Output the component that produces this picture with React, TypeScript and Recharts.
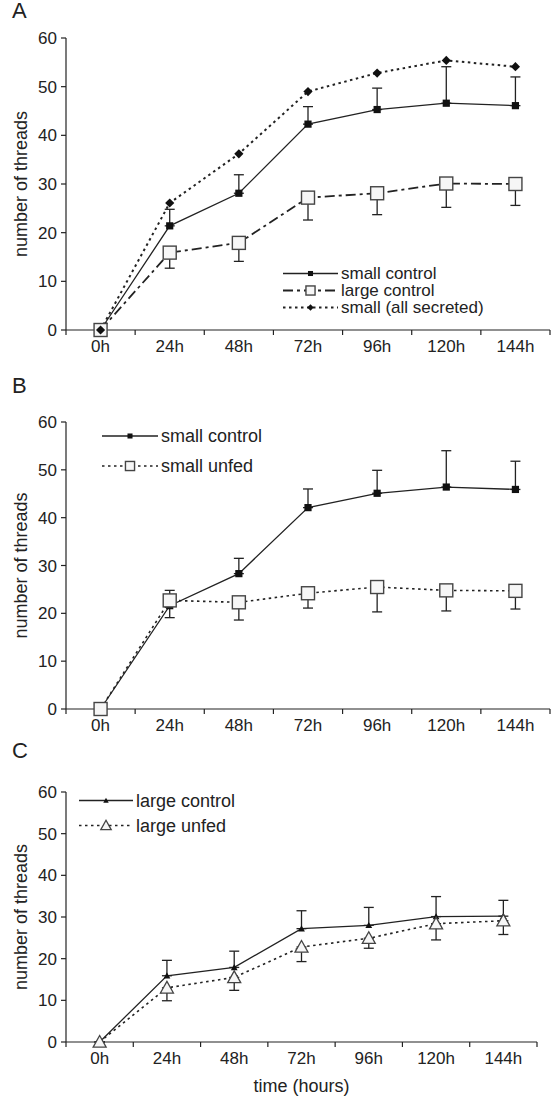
import React from "react";
import { LineChart, Line, XAxis, YAxis, ErrorBar, Legend } from "recharts";

// time points (hours) and axis ticks
const hours = [0, 24, 48, 72, 96, 120, 144];
const edgeTicks = [-12, 12, 36, 60, 84, 108, 132, 156];
const yTicks = [0, 10, 20, 30, 40, 50, 60];

// panel A
const aSmallControl = [0, 21.4, 28.1, 42.3, 45.3, 46.6, 46.1];
const aSmallControlErr = [0, 3.4, 3.8, 3.6, 4.4, 7.5, 5.9];
const aLargeControl = [0, 15.9, 17.9, 27.2, 28.1, 30.1, 30.0];
const aLargeControlErr = [0, 3.2, 3.8, 4.6, 4.4, 4.9, 4.4];
const aAllSecreted = [0, 26.1, 36.2, 49.0, 52.8, 55.4, 54.1];

// panel B
const bSmallControl = [0, 21.6, 28.3, 42.1, 45.1, 46.4, 45.9];
const bSmallControlErr = [0, 3.2, 3.2, 3.9, 4.8, 7.6, 5.9];
const bSmallUnfed = [0, 22.7, 22.3, 24.2, 25.5, 24.8, 24.7];
const bSmallUnfedErr = [0, 3.6, 3.7, 3.1, 5.2, 4.3, 3.8];

// panel C
const cLargeControl = [0, 15.9, 17.9, 27.2, 28.0, 30.1, 30.2];
const cLargeControlErr = [0, 3.7, 3.9, 4.3, 4.3, 4.8, 3.8];
const cLargeUnfed = [0, 13.0, 15.5, 22.8, 24.9, 28.4, 29.1];
const cLargeUnfedErr = [0, 3.1, 3.1, 3.5, 2.4, 3.9, 3.3];

const FONT = '"Liberation Sans", Arial, Helvetica, sans-serif';
const INK = "#222";

type Shape = "square" | "openSquare" | "diamond" | "triangle" | "openTriangle";

interface SeriesDef {
  key: string;
  errKey?: string;
  label: string;
  dash?: string;
  width: number;
  shape: Shape;
}

function Marker({ cx, cy, shape, scale = 1 }: { cx?: number; cy?: number; shape: Shape; scale?: number }) {
  if (cx == null || cy == null) return null;
  if (shape === "square") {
    const s = 3.6 * scale;
    return <rect x={cx - s} y={cy - s} width={s * 2} height={s * 2} fill="#111" />;
  }
  if (shape === "openSquare") {
    const s = 6.5 * scale;
    return (
      <rect x={cx - s} y={cy - s} width={s * 2} height={s * 2} fill="#f6f6f6" stroke="#444" strokeWidth={1.4} />
    );
  }
  if (shape === "diamond") {
    const s = 4.6 * scale;
    return <path d={`M${cx},${cy - s}L${cx + s},${cy}L${cx},${cy + s}L${cx - s},${cy}Z`} fill="#111" />;
  }
  if (shape === "triangle") {
    const s = 3.4 * scale;
    return <path d={`M${cx},${cy - s}L${cx + s},${cy + s * 0.8}L${cx - s},${cy + s * 0.8}Z`} fill="#111" />;
  }
  const s = 6.5 * scale;
  return (
    <path
      d={`M${cx},${cy - s}L${cx + s},${cy + s * 0.8}L${cx - s},${cy + s * 0.8}Z`}
      fill="#f6f6f6"
      stroke="#444"
      strokeWidth={1.3}
    />
  );
}

const HourTick = (props: any) => {
  const { x, y, payload } = props;
  const v = payload.value;
  if (!hours.includes(v)) {
    return <line x1={x} x2={x} y1={y} y2={y + 5} stroke={INK} strokeWidth={1.2} />;
  }
  return (
    <text x={x} y={y + 22} textAnchor="middle" fill={INK} fontSize={17} fontFamily={FONT}>
      {v}h
    </text>
  );
};

function LegendBox({
  items,
  gap,
  lineLen,
  markerScale,
  fontSize,
}: {
  items: SeriesDef[];
  gap: number;
  lineLen: number;
  markerScale: number;
  fontSize: number;
}) {
  return (
    <svg width={260} height={items.length * gap + 4} style={{ display: "block", overflow: "visible" }}>
      {items.map((it, i) => {
        const cy = gap / 2 + i * gap;
        return (
          <g key={it.key}>
            <line x1={0} x2={lineLen} y1={cy} y2={cy} stroke={INK} strokeWidth={it.width} strokeDasharray={it.dash} />
            <Marker cx={lineLen / 2} cy={cy} shape={it.shape} scale={markerScale} />
            <text x={lineLen + 3} y={cy + fontSize * 0.34} fill={INK} fontSize={fontSize} fontFamily={FONT}>
              {it.label}
            </text>
          </g>
        );
      })}
    </svg>
  );
}

interface PanelProps {
  letter: string;
  top: number;
  height: number;
  margin: { top: number; right: number; bottom: number; left: number };
  xHeight: number;
  data: any[];
  series: SeriesDef[];
  legend: { left: number; top: number; gap: number; lineLen: number; markerScale: number; fontSize: number };
  xTitle?: string;
}

function Panel({ letter, top, height, margin, xHeight, data, series, legend, xTitle }: PanelProps) {
  return (
    <div style={{ position: "absolute", left: 0, top, width: 552, height }}>
      <div
        style={{
          position: "absolute",
          left: 12,
          top: 0,
          fontSize: 22,
          lineHeight: "22px",
          fontFamily: FONT,
          color: INK,
          zIndex: 2,
        }}
      >
        {letter}
      </div>
      <LineChart width={552} height={height} data={data} margin={margin}>
        <XAxis
          dataKey="hour"
          type="number"
          domain={[-12, 156]}
          ticks={[...hours, ...edgeTicks].sort((p, q) => p - q)}
          interval={0}
          tick={HourTick}
          tickLine={false}
          tickSize={0}
          tickMargin={0}
          axisLine={{ stroke: INK, strokeWidth: 1.2 }}
          height={xHeight}
          label={
            xTitle
              ? (p: any) => (
                  <text
                    x={p.viewBox.x + p.viewBox.width / 2}
                    y={p.viewBox.y + 50}
                    textAnchor="middle"
                    fill={INK}
                    fontSize={18}
                    fontFamily={FONT}
                  >
                    {xTitle}
                  </text>
                )
              : undefined
          }
        />
        <YAxis
          type="number"
          domain={[0, 60]}
          ticks={yTicks}
          interval={0}
          width={48}
          tickSize={5}
          tickMargin={4}
          tick={{ fill: INK, fontSize: 17, fontFamily: FONT }}
          axisLine={{ stroke: INK, strokeWidth: 1.2 }}
          tickLine={{ stroke: INK, strokeWidth: 1.2 }}
          label={(p: any) => {
            const cx = p.viewBox.x + 3;
            const cy = p.viewBox.y + p.viewBox.height / 2;
            return (
              <text
                x={cx}
                y={cy}
                transform={`rotate(-90 ${cx} ${cy})`}
                textAnchor="middle"
                dominantBaseline="central"
                fill={INK}
                fontSize={18}
                fontFamily={FONT}
              >
                number of threads
              </text>
            );
          }}
        />
        <Legend
          layout="vertical"
          align="center"
          verticalAlign="middle"
          wrapperStyle={{ left: legend.left, top: legend.top, width: 260 }}
          content={() => (
            <LegendBox
              items={series}
              gap={legend.gap}
              lineLen={legend.lineLen}
              markerScale={legend.markerScale}
              fontSize={legend.fontSize}
            />
          )}
        />
        {series.map((s) => (
          <Line
            key={s.key}
            dataKey={s.key}
            type="linear"
            stroke={INK}
            strokeWidth={s.width}
            strokeDasharray={s.dash}
            isAnimationActive={false}
            activeDot={false}
            dot={(p: any) => <Marker key={`${s.key}-${p.index}`} cx={p.cx} cy={p.cy} shape={s.shape} />}
          >
            {s.errKey && (
              <ErrorBar dataKey={s.errKey} width={5} stroke={INK} strokeWidth={1.3} direction="y" isAnimationActive={false} />
            )}
          </Line>
        ))}
      </LineChart>
    </div>
  );
}

const panelAData = hours.map((h, i) => ({
  hour: h,
  sc: aSmallControl[i],
  scErr: [0, aSmallControlErr[i]],
  lc: aLargeControl[i],
  lcErr: [aLargeControlErr[i], 0],
  as: aAllSecreted[i],
}));

const panelBData = hours.map((h, i) => ({
  hour: h,
  sc: bSmallControl[i],
  scErr: [0, bSmallControlErr[i]],
  su: bSmallUnfed[i],
  suErr: [bSmallUnfedErr[i], 0],
}));

const panelCData = hours.map((h, i) => ({
  hour: h,
  lc: cLargeControl[i],
  lcErr: [0, cLargeControlErr[i]],
  lu: cLargeUnfed[i],
  luErr: [cLargeUnfedErr[i], 0],
}));

const seriesA: SeriesDef[] = [
  { key: "sc", errKey: "scErr", label: "small control", width: 1.3, shape: "square" },
  { key: "lc", errKey: "lcErr", label: "large control", dash: "10 4 3 4", width: 1.8, shape: "openSquare" },
  { key: "as", label: "small (all secreted)", dash: "2.5 3.5", width: 2, shape: "diamond" },
];

const seriesB: SeriesDef[] = [
  { key: "sc", errKey: "scErr", label: "small control", width: 1.3, shape: "square" },
  { key: "su", errKey: "suErr", label: "small unfed", dash: "2.5 3.5", width: 1.6, shape: "openSquare" },
];

const seriesC: SeriesDef[] = [
  { key: "lc", errKey: "lcErr", label: "large control", width: 1.3, shape: "triangle" },
  { key: "lu", errKey: "luErr", label: "large unfed", dash: "2.5 3.5", width: 1.6, shape: "openTriangle" },
];

export default function App() {
  return (
    <div style={{ position: "absolute", left: 0, top: 0, width: 552, height: 1102, background: "#fff" }}>
      <Panel
        letter="A"
        top={0}
        height={370}
        margin={{ top: 38, right: 2, bottom: 10, left: 18 }}
        xHeight={30}
        data={panelAData}
        series={seriesA}
        legend={{ left: 283, top: 265, gap: 17, lineLen: 55, markerScale: 0.7, fontSize: 17 }}
      />
      <Panel
        letter="B"
        top={375}
        height={370}
        margin={{ top: 47, right: 2, bottom: 6, left: 18 }}
        xHeight={30}
        data={panelBData}
        series={seriesB}
        legend={{ left: 102, top: 46, gap: 30, lineLen: 56, markerScale: 0.7, fontSize: 18 }}
      />
      <Panel
        letter="C"
        top={740}
        height={362}
        margin={{ top: 52, right: 15, bottom: 6, left: 18 }}
        xHeight={54}
        data={panelCData}
        series={seriesC}
        legend={{ left: 79, top: 48, gap: 25, lineLen: 54, markerScale: 0.8, fontSize: 18 }}
        xTitle="time (hours)"
      />
    </div>
  );
}
